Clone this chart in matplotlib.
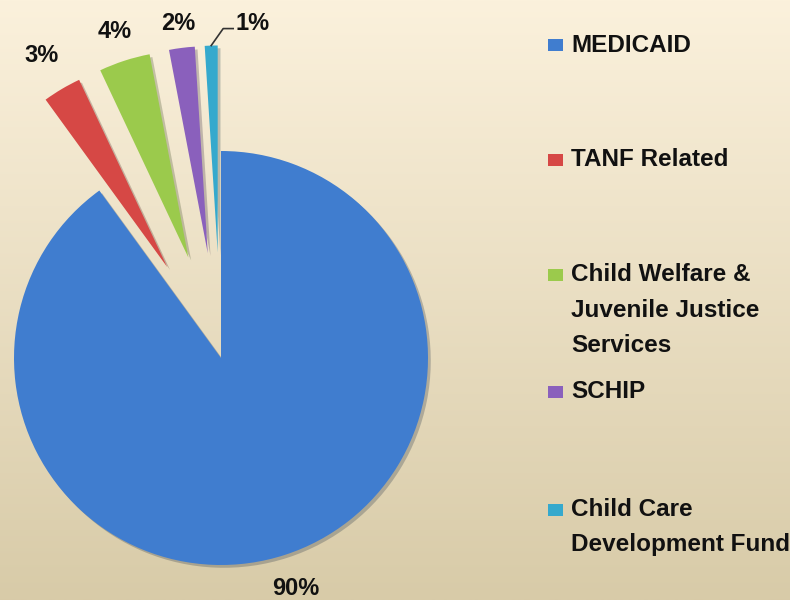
import numpy as np
import matplotlib.pyplot as plt
import matplotlib.patheffects as pe
from matplotlib.patches import Rectangle

labels = ["MEDICAID", "TANF Related", "Child Welfare &\nJuvenile Justice\nServices",
          "SCHIP", "Child Care\nDevelopment Fund"]
values = [90, 3, 4, 2, 1]
pct_labels = ["90%", "3%", "4%", "2%", "1%"]
colors = ["#407DCF", "#D64845", "#9BCA4C", "#8A60BC", "#35A9CD"]
explode = [0, 0.51, 0.51, 0.51, 0.51]
label_dist = [1.17, 1.19, 1.15, 1.12]

W, H = 790, 600
R = 207.0          # pie radius in pixels
cx, cy = 221, 358  # pie centre in pixels (from top-left)

fig = plt.figure(figsize=(W / 100, H / 100), dpi=100)

# beige gradient background
bg = fig.add_axes([0, 0, 1, 1], zorder=0)
top = np.array([251, 241, 220]) / 255
bot = np.array([216, 203, 168]) / 255
t = np.linspace(0, 1, 256)[:, None]
grad = (top * (1 - t) + bot * t)[:, None, :]
bg.imshow(grad, aspect="auto", extent=[0, 1, 0, 1])
bg.axis("off")

ax = fig.add_axes([0, 0, 1, 1], zorder=1)
ax.patch.set_alpha(0)
wedges, _ = ax.pie(values, colors=colors, explode=explode, startangle=90,
                   counterclock=False, radius=1,
                   wedgeprops=dict(edgecolor="none"))
for w in wedges:
    w.set_path_effects([pe.SimplePatchShadow(offset=(2, -2), alpha=0.25),
                        pe.Normal()])
ax.set_xlim(-cx / R, (W - cx) / R)
ax.set_ylim(-(H - cy) / R, cy / R)
ax.set_aspect("equal")
ax.axis("off")

font = dict(family=["Liberation Sans", "DejaVu Sans"], fontweight="bold",
            color="#111111")

# percentage labels
for i, w in enumerate(wedges):
    mid = np.deg2rad((w.theta1 + w.theta2) / 2)
    x0, y0 = w.center
    if i < 4:
        d = label_dist[i]
        ax.text(x0 + d * np.cos(mid), y0 + d * np.sin(mid), pct_labels[i],
                ha="center", va="center", fontsize=17, **font)
    else:
        tx, ty = x0 + np.cos(mid), y0 + np.sin(mid)
        kx, ky = tx + 12 / R, ty + 17 / R
        ex = kx + 10 / R
        ax.plot([tx, kx, ex], [ty, ky, ky], color="#333333", lw=1.2)
        ax.text(ex + 2 / R, ky + 5 / R, pct_labels[i], ha="left",
                va="center", fontsize=17, **font)

# legend drawn manually to keep Excel-like spacing
rows = [45, 160, 275, 392, 510]
line_gap = 35
for lab, col, yrow in zip(labels, colors, rows):
    fig.add_artist(Rectangle((548 / W, 1 - (yrow + 6) / H), 15 / W, 12 / H,
                             transform=fig.transFigure, facecolor=col,
                             edgecolor="none"))
    for j, line in enumerate(lab.split("\n")):
        fig.text(571 / W, 1 - (yrow + j * line_gap) / H, line, ha="left",
                 va="center", fontsize=17.5, **font)

fig.savefig("out.png", dpi=100)
